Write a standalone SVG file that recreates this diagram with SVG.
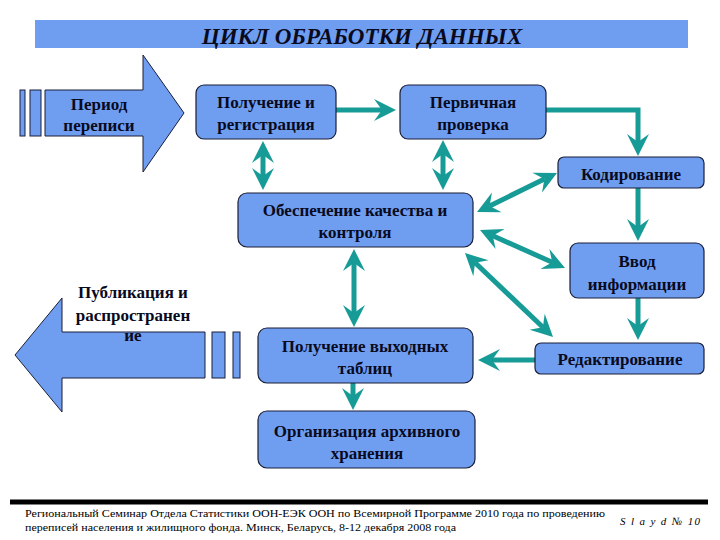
<svg xmlns="http://www.w3.org/2000/svg" width="720" height="540" viewBox="0 0 720 540">
<style>
.box{fill:#6F9EF0;stroke:#1a1f3a;stroke-width:1.2}
.big{fill:#6F9EF0;stroke:#1a1f3a;stroke-width:1}
.t{font-family:"Liberation Serif",Tinos,"DejaVu Serif","Noto Serif","Times New Roman",serif;font-weight:bold;font-size:17px;fill:#0a0a1e;text-anchor:middle}
.ti{font-family:"Liberation Serif",Tinos,"DejaVu Serif","Noto Serif","Times New Roman",serif;font-weight:bold;font-style:italic;font-size:23px;fill:#0a0a1e;text-anchor:middle}
.c{fill:none;stroke:#169B97;stroke-width:5}
.f{font-family:"Liberation Serif",Tinos,"DejaVu Serif","Noto Serif","Times New Roman",serif;font-size:11px;fill:#000}
</style>
<defs>
<marker id="ah" markerUnits="userSpaceOnUse" viewBox="0 -12 24 24" markerWidth="24" markerHeight="24" refX="8" refY="0" orient="auto-start-reverse">
<path d="M0,-11 L22,0 L0,11 L8,0 z" fill="#169B97"/>
</marker>
</defs>
<rect width="720" height="540" fill="#fff"/>
<g id="title">
<rect x="35" y="20" width="653" height="28" fill="#6F9EF0"/>
<text class="ti" x="362" y="44">ЦИКЛ ОБРАБОТКИ ДАННЫХ</text>
</g>
<g id="connectors">
<path class="c" marker-end="url(#ah)" d="M336,110 H382"/>
<path class="c" marker-end="url(#ah)" d="M546,110 H638 V142"/>
<path class="c" marker-end="url(#ah)" d="M638,188 V227"/>
<path class="c" marker-end="url(#ah)" d="M638,298 V326"/>
<path class="c" marker-end="url(#ah)" d="M535,360 H492"/>
<path class="c" marker-end="url(#ah)" d="M353,383 V396"/>
<path class="c" marker-start="url(#ah)" marker-end="url(#ah)" d="M263,155 V176"/>
<path class="c" marker-start="url(#ah)" marker-end="url(#ah)" d="M443,154 V176"/>
<path class="c" marker-start="url(#ah)" marker-end="url(#ah)" d="M354,263 V313"/>
<path class="c" marker-start="url(#ah)" marker-end="url(#ah)" d="M544.4,179.1 L489.6,205.9"/>
<path class="c" marker-start="url(#ah)" marker-end="url(#ah)" d="M492.8,235.7 L552.2,262.3"/>
<path class="c" marker-start="url(#ah)" marker-end="url(#ah)" d="M475.1,262.7 L542.9,327.3"/>
</g>
<g id="period">
<rect class="big" x="20" y="90" width="5" height="46"/>
<rect class="big" x="30" y="90" width="11" height="46"/>
<polygon class="big" points="45,90 143,90 143,55 184,113 143,172 143,136 45,136"/>
<text class="t" x="99" y="110">Период</text>
<text class="t" x="99" y="131">переписи</text>
</g>
<g id="publication">
<polygon class="big" points="15,355 62,298 62,332 205,332 205,378 62,378 62,412"/>
<rect class="big" x="212" y="332" width="13" height="46"/>
<rect class="big" x="233" y="332" width="7" height="46"/>
<text class="t" x="133" y="298">Публикация и</text>
<text class="t" x="133" y="321">распространен</text>
<text class="t" x="133" y="341">ие</text>
</g>
<g id="receipt">
<rect class="box" x="196" y="85" width="140" height="54" rx="8"/>
<text class="t" x="266" y="108">Получение и</text>
<text class="t" x="266" y="130">регистрация</text>
</g>
<g id="primary">
<rect class="box" x="400" y="85" width="146" height="54" rx="8"/>
<text class="t" x="473" y="108">Первичная</text>
<text class="t" x="473" y="130">проверка</text>
</g>
<g id="coding">
<rect class="box" x="558" y="157" width="146" height="31" rx="6"/>
<text class="t" x="631" y="180">Кодирование</text>
</g>
<g id="quality">
<rect class="box" x="238" y="193" width="235" height="54" rx="9"/>
<text class="t" x="355" y="216">Обеспечение качества и</text>
<text class="t" x="355" y="238">контроля</text>
</g>
<g id="input">
<rect class="box" x="570" y="243" width="134" height="55" rx="8"/>
<text class="t" x="637" y="267">Ввод</text>
<text class="t" x="637" y="290">информации</text>
</g>
<g id="tables">
<rect class="box" x="258" y="328" width="215" height="55" rx="9"/>
<text class="t" x="365" y="352">Получение выходных</text>
<text class="t" x="365" y="374">таблиц</text>
</g>
<g id="editing">
<rect class="box" x="535" y="343" width="169" height="31" rx="6"/>
<text class="t" x="620" y="365">Редактирование</text>
</g>
<g id="archive">
<rect class="box" x="258" y="411" width="217" height="57" rx="9"/>
<text class="t" x="367" y="437">Организация архивного</text>
<text class="t" x="367" y="459">хранения</text>
</g>
<g id="footer">
<line x1="10" y1="502" x2="708" y2="502" stroke="#000" stroke-width="5"/>
<text class="f" x="25" y="517" textLength="580" lengthAdjust="spacingAndGlyphs">Региональный Семинар Отдела Статистики ООН-ЕЭК ООН по Всемирной Программе 2010 года по проведению</text>
<text class="f" x="25" y="531" textLength="431" lengthAdjust="spacingAndGlyphs">переписей населения и жилищного фонда. Минск, Беларусь, 8-12 декабря 2008 года</text>
<text class="f" x="620" y="525" font-style="italic" textLength="80" lengthAdjust="spacing">S l a y d № 10</text>
</g>
</svg>
